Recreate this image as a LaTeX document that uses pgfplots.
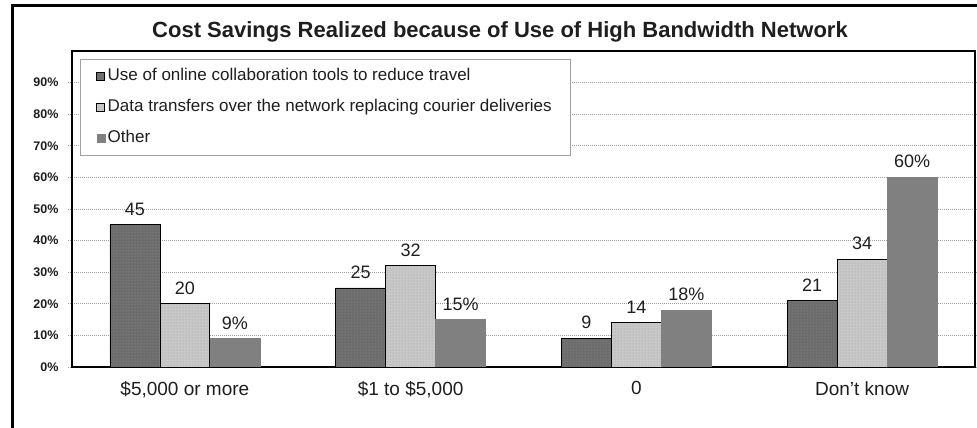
\documentclass[border=0pt]{standalone}
\usepackage{fontspec}
\setmainfont{Liberation Sans}
\usepackage{pgfplots}
\pgfplotsset{compat=1.18}
\usetikzlibrary{patterns}

\definecolor{darkbar}{HTML}{6C6C6C}
\definecolor{darkdots}{HTML}{9A9A9A}
\definecolor{lightbar}{HTML}{C8C8C8}
\definecolor{lightdots}{HTML}{9C9C9C}
\definecolor{midbar}{HTML}{808080}
\definecolor{gridgray}{HTML}{A0A0A0}
\definecolor{textdark}{HTML}{1E1E1E}

\begin{document}
\begin{tikzpicture}[x=1pt,y=1pt]
\useasboundingbox (0,0) rectangle (977,428);
% chart area frame (left and top edges)
\draw[line width=3pt] (12.5,0) -- (12.5,422) -- (977,422);
\node[font=\fontsize{22}{24}\selectfont\bfseries, text=textdark] at (500,396)
  {Cost Savings Realized because of Use of High Bandwidth Network};
\begin{axis}[
  at={(72pt,61pt)}, anchor=south west,
  width=903pt, height=316pt, scale only axis,
  xmin=-0.5, xmax=3.5, ymin=0, ymax=100,
  ybar=0pt, bar width=0.2212,
  xtick={0,1,2,3},
  xticklabels={{\$5,000 or more},{\$1 to \$5,000},{0},{Don't know}},
  x tick style={draw=none},
  extra x ticks={-0.5,0.5,1.5,2.5,3.5},
  extra x tick labels={},
  extra x tick style={grid=none, tick style={draw=black, line width=1.2pt}, major tick length=5pt},
  ytick={0,10,...,90},
  yticklabel={\pgfmathprintnumber{\tick}\%},
  /pgf/number format/assume math mode=true,
  tick align=outside,
  y tick style={draw=gridgray, line width=0.8pt, dash pattern=on 1pt off 1pt},
  major tick length=4pt,
  ymajorgrids,
  grid style={draw=gridgray, line width=0.9pt, dash pattern=on 1pt off 1pt},
  axis line style={line width=1.5pt},
  yticklabel style={font=\fontsize{12.5}{14}\selectfont\bfseries, text=textdark, xshift=-6pt},
  xticklabel style={font=\fontsize{19}{21}\selectfont, text=textdark, yshift=-7pt},
  nodes near coords,
  nodes near coords style={font=\fontsize{18}{20}\selectfont, text=textdark, inner sep=0pt, anchor=south, yshift=9pt},
  legend style={at={(0.00885,0.9747)}, anchor=north west,
    draw=gridgray, line width=0.8pt, fill=white,
    font=\fontsize{17}{19}\selectfont, text=textdark,
    inner xsep=16pt, inner ysep=7pt, row sep=11pt,
    nodes={inner xsep=2.5pt, inner ysep=2pt, text height=12pt, text depth=4pt}},
  legend cell align=left,
  legend image code/.code={\draw[#1] (0pt,-4pt) rectangle (8pt,4pt);},
]
\addplot[fill=darkbar, draw=black, line width=0.8pt,
  postaction={pattern=dots, pattern color=darkdots}]
  coordinates {(0,45) (1,25) (2,9) (3,21)};
\addplot[fill=lightbar, draw=black, line width=0.8pt,
  postaction={pattern=dots, pattern color=lightdots}]
  coordinates {(0,20) (1,32) (2,14) (3,34)};
\addplot[fill=midbar, draw=midbar, line width=0.5pt,
  nodes near coords={\pgfmathprintnumber{\pgfplotspointmeta}\%}]
  coordinates {(0,9) (1,15) (2,18) (3,60)};
\legend{Use of online collaboration tools to reduce travel,
  Data transfers over the network replacing courier deliveries,
  Other}
\end{axis}
\end{tikzpicture}
\end{document}
